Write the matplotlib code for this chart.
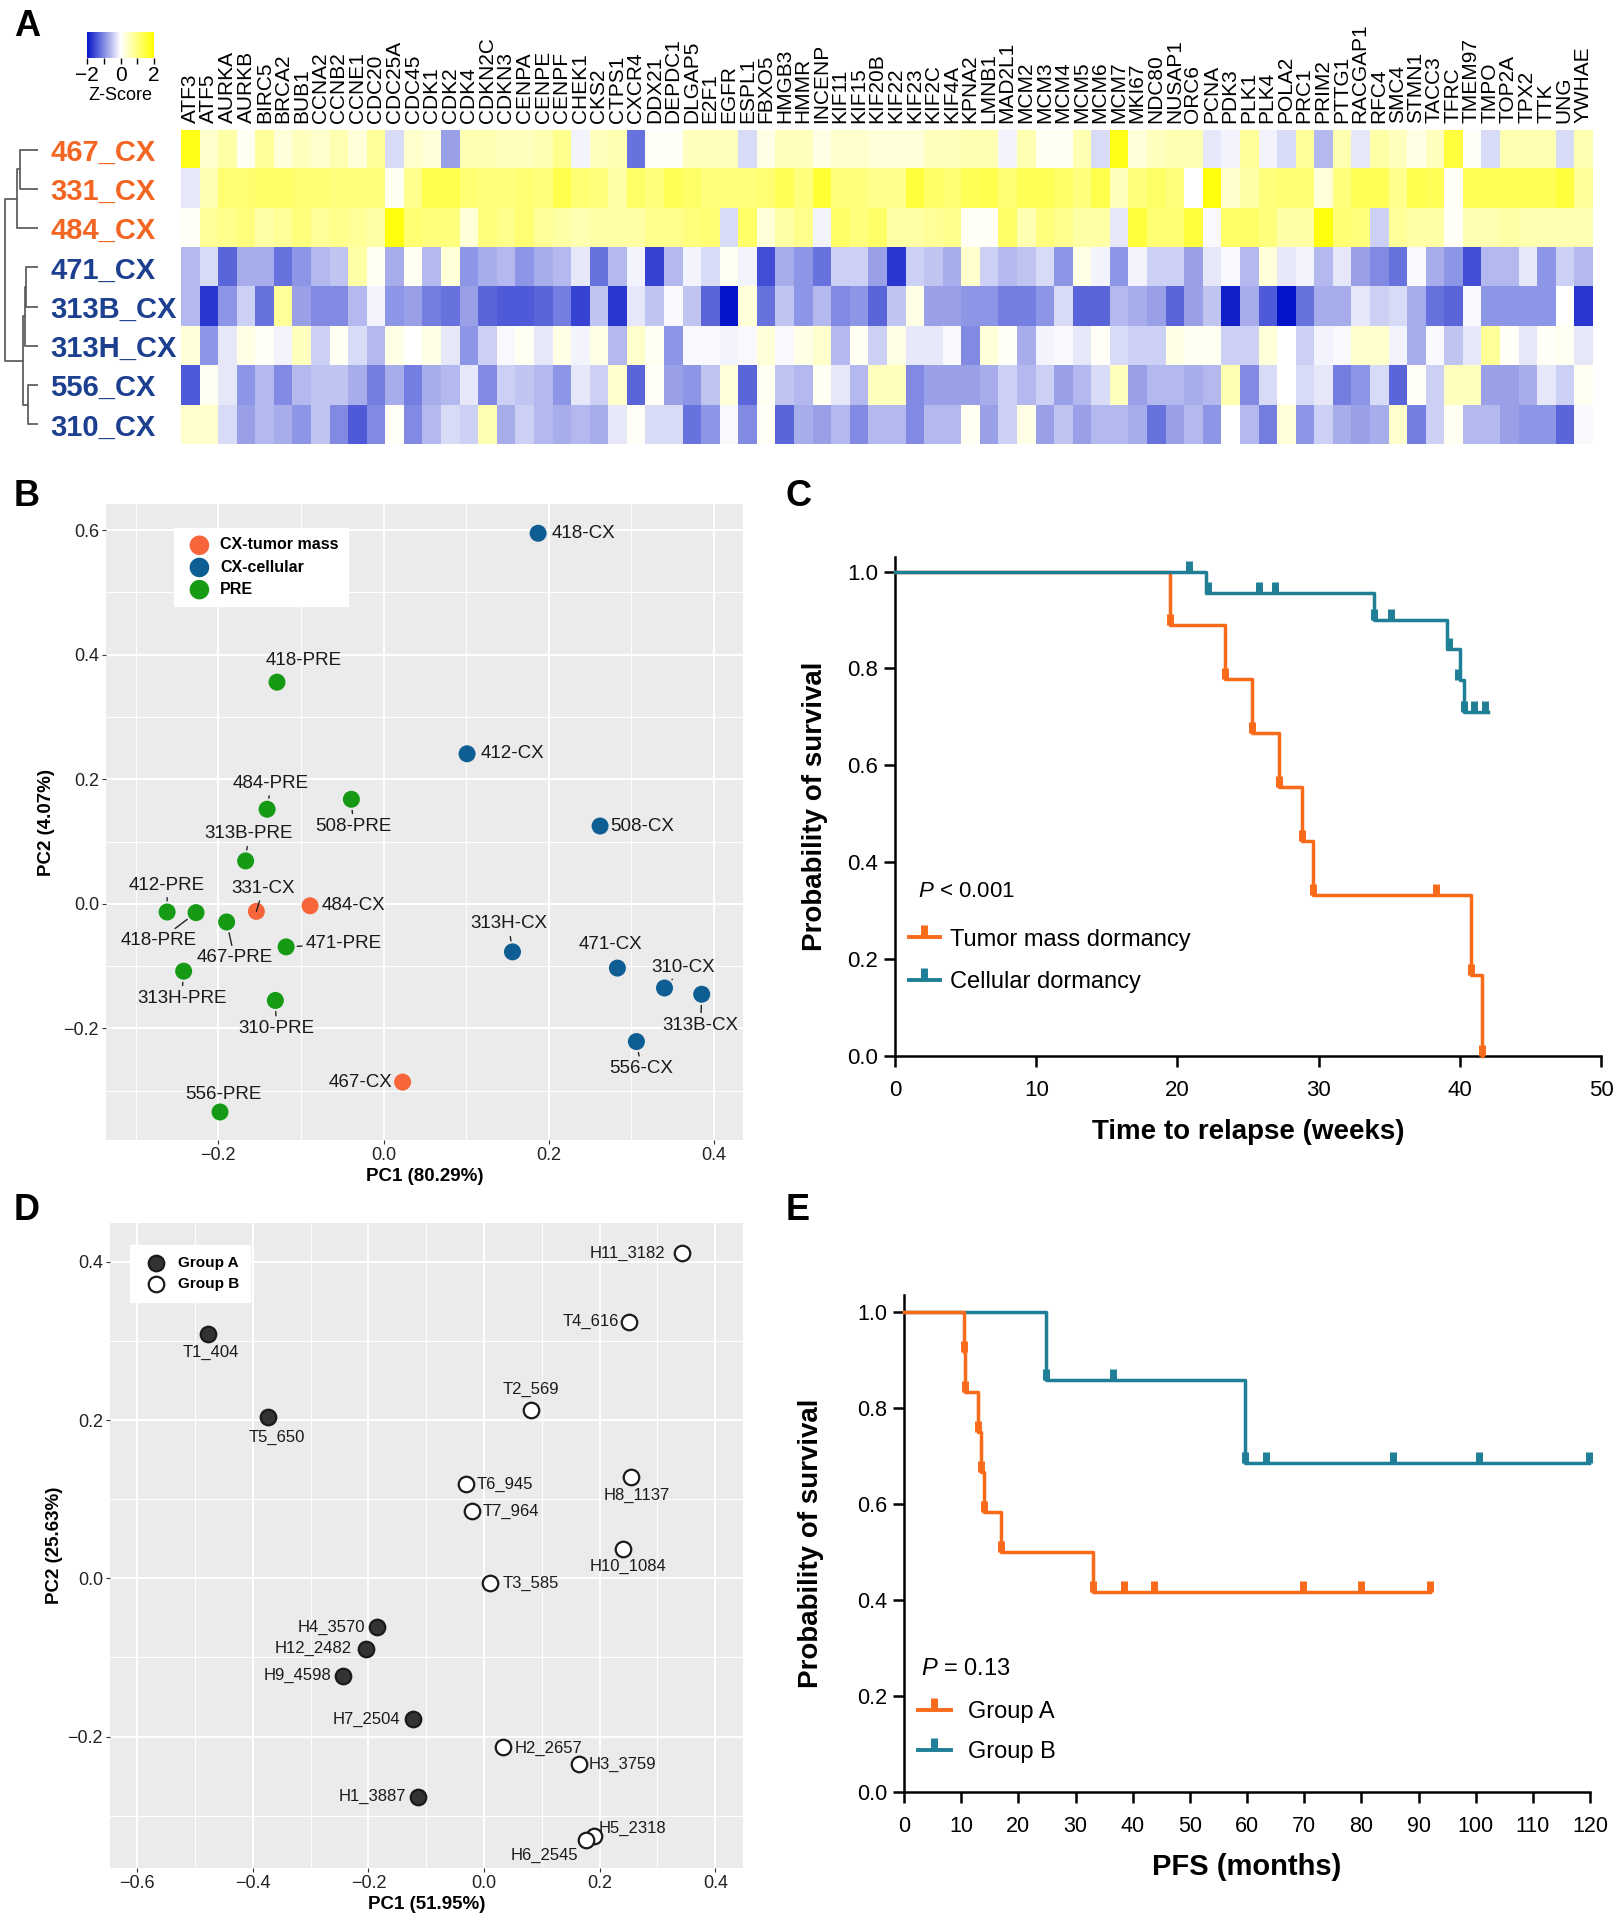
import matplotlib
matplotlib.use("Agg")
import matplotlib.pyplot as plt
import numpy as np
from matplotlib.colors import LinearSegmentedColormap
from matplotlib.lines import Line2D

plt.rcParams["font.family"] = ["Liberation Sans", "DejaVu Sans"]
plt.rcParams["mathtext.fontset"] = "custom"
plt.rcParams["mathtext.it"] = "Liberation Sans:italic"
plt.rcParams["mathtext.rm"] = "Liberation Sans"

W, H = 1619, 1920

# ---------------- A: heatmap ----------------
genes = ["ATF3", "ATF5", "AURKA", "AURKB", "BIRC5", "BRCA2", "BUB1", "CCNA2", "CCNB2", "CCNE1",
         "CDC20", "CDC25A", "CDC45", "CDK1", "CDK2", "CDK4", "CDKN2C", "CDKN3", "CENPA", "CENPE",
         "CENPF", "CHEK1", "CKS2", "CTPS1", "CXCR4", "DDX21", "DEPDC1", "DLGAP5", "E2F1", "EGFR",
         "ESPL1", "FBXO5", "HMGB3", "HMMR", "INCENP", "KIF11", "KIF15", "KIF20B", "KIF22", "KIF23",
         "KIF2C", "KIF4A", "KPNA2", "LMNB1", "MAD2L1", "MCM2", "MCM3", "MCM4", "MCM5", "MCM6",
         "MCM7", "MKI67", "NDC80", "NUSAP1", "ORC6", "PCNA", "PDK3", "PLK1", "PLK4", "POLA2",
         "PRC1", "PRIM2", "PTTG1", "RACGAP1", "RFC4", "SMC4", "STMN1", "TACC3", "TFRC", "TMEM97",
         "TMPO", "TOP2A", "TPX2", "TTK", "UNG", "YWHAE"]
samples = ["467_CX", "331_CX", "484_CX", "471_CX", "313B_CX", "313H_CX", "556_CX", "310_CX"]
sample_type = ["mass", "mass", "mass", "cell", "cell", "cell", "cell", "cell"]

z_467 = [1.8, 0.4, 0.7, 0.1, 0.8, 0.3, 0.5, 0.4, 0.6, 0.3, 0.8, -0.3, 0.4, 0.3, -0.8, 0.6, 0.6, 0.5, 0.5, 0.6, 0.9, -0.1, 0.5,
         0.6, -1.2, 0.05, 0.05, 0.5, 0.5, 0.5, -0.3, 0.2, 0.5, 0.5, 0.2, 0.4, 0.4, 0.3, 0.3, 0.3, 0.5, 0.5, 0.6, 0.6, -0.1, 0.6, 0.1, 0.1, 0.6, -0.3, 1.8,
         0.3, 0.5, 0.6, 0.6, -0.2, -0.1, 0.8, -0.1, -0.3, 0.8, -0.6, 0.6, -0.2, 0.7, 0.5, 0.2, 0.5, 1.5, 0.05, -0.3, 0.6, 0.6, 0.6, -0.3, 0.6]
z_331 = [-0.2, 0.6, 1.1, 1.1, 1.2, 1.2, 1.1, 1.1, 1.0, 1.0, 1.0, 0.1, 0.9, 1.4, 1.4, 1.1, 1.0, 1.0, 1.1, 1.0, 1.4, 1.1, 1.0,
         0.7, 1.2, 1.0, 1.3, 1.2, 1.0, 1.0, 1.0, 1.1, 1.3, 1.0, 1.6, 1.0, 1.0, 0.9, 0.9, 1.5, 1.2, 1.1, 1.3, 1.4, 1.1, 1.3, 1.3, 1.2, 1.0, 1.4, 0.5,
         1.0, 1.2, 1.0, 0.0, 1.9, 0.4, 0.7, 1.0, 1.1, 1.1, 0.3, 1.0, 1.3, 1.3, 0.9, 1.4, 1.3, 0.05, 1.3, 1.3, 1.3, 1.3, 1.3, 1.5, 0.8]
z_484 = [0.05, 0.8, 0.9, 1.0, 0.7, 0.8, 1.0, 0.8, 0.9, 0.8, 0.7, 1.9, 1.1, 1.0, 1.0, 0.3, 1.0, 0.9, 1.1, 0.8, 0.7, 0.6, 0.7,
         0.7, 0.7, 0.9, 0.9, 1.0, 1.1, -0.3, 1.2, 0.3, 0.7, 0.9, -0.1, 1.2, 1.0, 1.2, 0.7, 0.7, 0.8, 0.9, 0.05, 0.05, 1.2, 0.6, 1.0, 0.9, 0.7, 0.7, -0.2,
         1.5, 1.1, 1.1, 1.5, -0.05, 1.2, 1.2, 1.0, 0.7, 0.7, 1.9, 1.1, 1.0, -0.4, 0.8, 0.7, 0.7, 0.05, 0.6, 0.6, 0.7, 0.6, 0.6, 0.6, 0.6]
z_471 = [-0.6, -0.3, -1.3, -0.7, -0.7, -1.2, -0.9, -0.6, -0.5, 0.7, 0.1, -0.7, 0.1, -0.6, 0.3, -0.9, -0.7, -0.6, -0.9, -0.7, -0.6, -0.2, -1.2,
         -0.6, -0.1, -1.6, -0.6, -0.1, -0.3, 0.1, -0.1, -1.5, -0.7, -0.9, -1.2, -0.4, -0.4, -0.8, -1.7, -0.4, -0.5, -0.7, 0.4, -0.4, -0.6, -0.5, -0.3, -0.9, 0.2, -0.1, -0.9,
         -0.1, -0.4, -0.4, -0.8, -0.2, -0.05, -0.6, 0.3, -0.2, -0.1, -0.6, -0.2, -0.8, -1.0, -1.2, -0.05, -0.7, -0.9, -1.5, -0.6, -0.6, -0.2, -0.9, -0.4, -0.6]
z_313b = [-0.6, -1.7, -0.9, -0.4, -1.2, 0.8, -0.8, -1.0, -1.0, -0.6, -0.1, -0.9, -0.8, -1.1, -1.2, -0.8, -1.3, -1.4, -1.4, -1.3, -1.1, -1.6, -0.5,
          -1.7, -0.2, -0.5, -0.05, -0.5, -1.3, -2.0, 0.3, -1.2, -0.5, -0.9, -0.6, -1.0, -0.9, -1.3, -0.5, 0.2, -0.8, -0.8, -0.9, -0.9, -1.1, -1.1, -0.9, -0.3, -1.3, -1.3, -0.6,
          -0.7, -0.8, -1.3, -0.8, -0.5, -1.9, -0.7, -1.4, -2.0, -1.2, -0.7, -0.7, -0.2, -0.4, -0.3, -0.7, -1.2, -1.3, -0.05, -0.9, -0.9, -0.9, -0.9, 0.0, -1.7]
z_313h = [0.3, -0.9, -0.2, 0.2, 0.05, -0.1, 0.5, -0.4, 0.1, -0.3, -0.6, 0.2, 0.0, 0.2, -0.2, -0.9, -0.4, -0.05, 0.1, -0.2, 0.2, -0.1, 0.2,
          -0.6, 0.4, 0.1, -0.9, -0.05, -0.05, -0.1, -0.05, 0.3, -0.05, 0.2, 0.4, -0.6, 0.1, -0.4, 0.2, -0.2, -0.2, -0.05, -1.0, 0.3, 0.05, -0.7, -0.1, -0.05, -0.2, 0.05, -0.3,
          -0.4, -0.4, 0.2, 0.1, 0.1, -0.4, -0.4, 0.3, 0.0, -0.4, -0.1, -0.05, 0.4, 0.4, -0.1, -0.7, -0.05, -0.5, -0.2, 0.8, 0.05, -0.2, 0.05, 0.1, -0.2]
z_556 = [-1.4, 0.1, -0.2, -0.9, -0.6, -1.0, -0.6, -0.5, -0.5, -0.7, -1.1, -0.7, -1.1, -0.7, -0.6, -0.2, -1.0, -0.4, -0.5, -0.6, -0.9, -0.2, -0.4,
         0.4, -1.3, 0.05, -0.8, -0.9, -0.5, 0.3, -1.3, 0.1, -0.5, -0.6, 0.1, -0.2, -0.6, 0.5, 0.5, -1.0, -0.8, -0.8, -0.8, -0.7, -0.4, -0.6, -0.4, -0.8, -0.6, -0.3, 0.5,
         -0.8, -0.6, -0.6, -0.7, -0.6, 0.6, -1.0, -0.3, 0.0, -0.3, -0.2, -1.1, -0.9, -0.3, -1.3, 0.05, -0.4, 0.5, 0.5, -0.8, -0.8, -0.7, -0.2, -0.4, 0.1]
z_310 = [0.4, 0.4, -0.3, -0.8, -0.6, -0.7, -0.9, -0.5, -1.0, -1.4, -1.0, 0.05, -1.0, -0.6, -0.3, -0.4, 0.6, -0.7, -0.4, -0.6, -0.7, -0.6, -0.7,
         -0.2, 0.05, -0.3, -0.3, -1.2, -0.9, -0.05, -1.0, 0.05, -1.3, -0.7, -0.8, -0.6, -1.0, -0.6, -0.6, -1.0, -0.6, -0.6, 0.1, -0.8, -0.4, 0.2, -0.8, -0.5, -0.8, -0.6, -0.6,
         -0.7, -1.2, -0.8, -0.6, -0.9, 0.0, -0.6, -1.1, 0.3, -0.9, -0.4, -0.7, -0.8, -0.7, 0.4, -1.1, -0.4, 0.1, -0.6, -0.6, -0.8, -0.9, -0.9, -1.3, -0.05]

# dendrogram merges (left, right, height); leaves 0..7, new clusters numbered from 8
merges = [(0, 1, 18.5), (8, 2, 21.0), (3, 4, 11.8), (10, 5, 13.0),
          (6, 7, 9.8), (11, 12, 14.6), (9, 13, 32.8)]

# ---------------- B: PCA, dormancy ----------------
b_names = ["418-CX", "412-CX", "508-CX", "313H-CX", "471-CX", "310-CX", "313B-CX", "556-CX",
           "331-CX", "484-CX", "467-CX",
           "418-PRE", "484-PRE", "508-PRE", "313B-PRE", "412-PRE", "418-PRE", "467-PRE",
           "471-PRE", "313H-PRE", "310-PRE", "556-PRE"]
b_group = ["CX-cellular"] * 8 + ["CX-tumor mass"] * 3 + ["PRE"] * 11
b_pc1 = [0.187, 0.101, 0.262, 0.156, 0.283, 0.340, 0.385, 0.306,
         -0.154, -0.089, 0.023,
         -0.129, -0.141, -0.039, -0.167, -0.262, -0.227, -0.190, -0.118, -0.242, -0.131, -0.198]
b_pc2 = [0.595, 0.241, 0.125, -0.077, -0.103, -0.135, -0.145, -0.221,
         -0.012, -0.003, -0.286,
         0.356, 0.152, 0.168, 0.069, -0.013, -0.014, -0.029, -0.069, -0.108, -0.155, -0.334]

# ---------------- C: KM, time to relapse ----------------
mass_t = [0, 19.5, 23.4, 25.3, 27.2, 28.8, 29.6, 40.8, 41.6]
mass_s = [1.0, 0.889, 0.778, 0.667, 0.556, 0.444, 0.333, 0.167, 0.0]
mass_mark_t = [19.5, 23.4, 25.3, 27.2, 28.8, 29.6, 38.3, 40.8, 41.6]
mass_mark_s = [0.889, 0.778, 0.667, 0.556, 0.444, 0.333, 0.333, 0.167, 0.0]
cell_t = [0, 22.0, 33.9, 39.1, 40.0, 40.3, 42.0]
cell_s = [1.0, 0.955, 0.90, 0.84, 0.776, 0.71, 0.71]
cell_mark_t = [20.8, 22.2, 25.8, 26.9, 33.9, 35.1, 39.2, 39.9, 40.3, 41.0, 41.8]
cell_mark_s = [1.0, 0.955, 0.955, 0.955, 0.90, 0.90, 0.84, 0.776, 0.71, 0.71, 0.71]

# ---------------- D: PCA, groups ----------------
d_names = ["T1_404", "T5_650", "H4_3570", "H12_2482", "H9_4598", "H7_2504", "H1_3887",
           "H11_3182", "T4_616", "T2_569", "T6_945", "H8_1137", "T7_964", "H10_1084",
           "T3_585", "H2_2657", "H3_3759", "H5_2318", "H6_2545"]
d_group = ["Group A"] * 7 + ["Group B"] * 12
d_pc1 = [-0.478, -0.373, -0.185, -0.204, -0.244, -0.123, -0.114,
         0.343, 0.251, 0.081, -0.031, 0.255, -0.021, 0.240, 0.010, 0.032, 0.165, 0.191, 0.177]
d_pc2 = [0.309, 0.204, -0.062, -0.089, -0.123, -0.178, -0.276,
         0.411, 0.324, 0.213, 0.119, 0.128, 0.085, 0.037, -0.006, -0.213, -0.235, -0.326, -0.331]

# ---------------- E: KM, PFS ----------------
ga_t = [0, 10.5, 10.7, 12.9, 13.4, 14.0, 16.9, 33.1, 92.0]
ga_s = [1.0, 0.917, 0.833, 0.75, 0.667, 0.583, 0.5, 0.417, 0.417]
ga_mark_t = [10.5, 10.7, 12.9, 13.4, 14.0, 16.9, 33.1, 38.5, 43.8, 69.8, 80.0, 92.0]
ga_mark_s = [0.917, 0.833, 0.75, 0.667, 0.583, 0.5, 0.417, 0.417, 0.417, 0.417, 0.417, 0.417]
gb_t = [0, 24.8, 59.6, 119.8]
gb_s = [1.0, 0.857, 0.686, 0.686]
gb_mark_t = [24.8, 36.6, 59.6, 63.4, 85.5, 100.5, 119.8]
gb_mark_s = [0.857, 0.857, 0.686, 0.686, 0.686, 0.686, 0.686]

ORANGE = "#F96A1A"
TEAL = "#1F7F97"


def box(x0, y0, x1, y1):
    # pixel box (top-left origin) -> figure fraction rect
    return [x0 / W, 1 - y1 / H, (x1 - x0) / W, (y1 - y0) / H]


def gg_style(ax, xticks, yticks, xlim, ylim):
    ax.set_facecolor("#EBEBEB")
    for s in ax.spines.values():
        s.set_visible(False)
    ax.set_xticks(xticks)
    ax.set_yticks(yticks)
    step = xticks[1] - xticks[0]
    mx = np.arange(xticks[0] - step / 2, xlim[1], step)
    ax.set_xticks(mx[mx > xlim[0]], minor=True)
    step = yticks[1] - yticks[0]
    my = np.arange(yticks[0] - step / 2, ylim[1], step)
    ax.set_yticks(my[my > ylim[0]], minor=True)
    ax.set_xlim(xlim)
    ax.set_ylim(ylim)
    ax.grid(which="major", color="white", lw=1.4)
    ax.grid(which="minor", color="white", lw=0.7)
    ax.set_axisbelow(True)
    ax.tick_params(which="major", length=3, color="#333333", labelsize=13, pad=2, labelcolor="#222222")
    ax.tick_params(which="minor", length=0)


def km_style(ax, xlim, ylim, xticks, labelsize):
    for s in ["top", "right"]:
        ax.spines[s].set_visible(False)
    for s in ["left", "bottom"]:
        ax.spines[s].set_linewidth(1.8)
    ax.set_xticks(xticks)
    ax.set_yticks([0, 0.2, 0.4, 0.6, 0.8, 1.0])
    ax.set_yticklabels(["0.0", "0.2", "0.4", "0.6", "0.8", "1.0"])
    ax.set_xlim(xlim)
    ax.set_ylim(ylim)
    ax.tick_params(direction="out", length=8, width=1.8, labelsize=labelsize)
    ax.tick_params(axis="x", pad=9)
    ax.tick_params(axis="y", pad=4)


def label_points(ax, xs, ys, names, offsets, size):
    for x, y, name, (dx, dy, ha, line) in zip(xs, ys, names, offsets):
        props = dict(arrowstyle="-", color="#222222", lw=1.0, shrinkA=1, shrinkB=8) if line else None
        ax.annotate(name, (x, y), xytext=(dx, -dy), textcoords="offset pixels",
                    ha=ha, va="center", fontsize=size, color="#1a1a1a", arrowprops=props)


fig = plt.figure(figsize=(W / 100, H / 100), dpi=100)

# ---- A ----
Z = np.array([z_467, z_331, z_484, z_471, z_313b, z_313h, z_556, z_310])
cmap = LinearSegmentedColormap.from_list("bwy", ["#0414C8", "#FFFFFF", "#FFFF00"])
ax_hm = fig.add_axes(box(181, 130, 1592, 444))
im = ax_hm.imshow(Z, cmap=cmap, vmin=-2, vmax=2, aspect="auto", interpolation="nearest")
ax_hm.xaxis.tick_top()
ax_hm.set_xticks(range(len(genes)))
ax_hm.set_xticklabels(genes, rotation=90, fontsize=15)
ax_hm.set_yticks(range(len(samples)))
ax_hm.set_yticklabels(samples, fontsize=21, fontweight="bold", ha="left")
for lab, t in zip(ax_hm.get_yticklabels(), sample_type):
    lab.set_color("#F26522" if t == "mass" else "#1D3F8F")
ax_hm.tick_params(axis="x", length=0, pad=5)
ax_hm.tick_params(axis="y", length=0, pad=94)
for s in ax_hm.spines.values():
    s.set_visible(False)

ax_dn = fig.add_axes(box(3, 130, 38, 444))
pos = {i: float(i) for i in range(len(samples))}
hgt = {i: 0.0 for i in range(len(samples))}
for k, (a, b, h) in enumerate(merges):
    ax_dn.plot([hgt[a], h, h, hgt[b]], [pos[a], pos[a], pos[b], pos[b]], color="#606060", lw=1.3)
    pos[len(samples) + k] = (pos[a] + pos[b]) / 2
    hgt[len(samples) + k] = h
ax_dn.set_xlim(35, 0)
ax_dn.set_ylim(len(samples) - 0.5, -0.5)
ax_dn.axis("off")

cax = fig.add_axes(box(87, 32, 154, 58))
cb = fig.colorbar(im, cax=cax, orientation="horizontal", ticks=[-2, -1, 0, 1, 2])
cb.set_ticklabels(["\u22122", "", "0", "", "2"])
cb.outline.set_visible(False)
cax.tick_params(length=4, width=1, labelsize=15, pad=2)
cb.set_label("Z-Score", fontsize=13, labelpad=1)

# ---- B ----
b_colors = {"CX-tumor mass": "#F7663A", "CX-cellular": "#0E5E93", "PRE": "#169A16"}
ax_b = fig.add_axes(box(106, 504, 743, 1140))
gg_style(ax_b, [-0.2, 0.0, 0.2, 0.4], [-0.2, 0.0, 0.2, 0.4, 0.6], (-0.336, 0.435), (-0.379, 0.642))
for g in ["CX-tumor mass", "CX-cellular", "PRE"]:
    idx = [i for i, gg in enumerate(b_group) if gg == g]
    ax_b.scatter([b_pc1[i] for i in idx], [b_pc2[i] for i in idx], s=150, color=b_colors[g],
                 edgecolors="none", label=g, zorder=3)
b_offsets = [(14, 0, "left", False), (14, 0, "left", False), (10, 0, "left", False),
             (-4, -28, "center", True), (-7, -24, "center", False), (19, -21, "center", True),
             (-1, 31, "center", True), (5, 27, "center", True),
             (7, -23, "center", True), (12, 0, "left", False), (-10, 0, "right", False),
             (27, -22, "center", False), (4, -26, "center", True), (2, 27, "center", True),
             (3, -27, "center", True), (0, -27, "center", True), (-37, 28, "center", True),
             (8, 36, "center", True), (20, -3, "left", True), (-2, 27, "center", True),
             (1, 28, "center", True), (3, -17, "center", False)]
label_points(ax_b, b_pc1, b_pc2, b_names, b_offsets, 13.5)
ax_b.legend(loc="upper left", bbox_to_anchor=(0.094, 0.975), frameon=True, fancybox=False,
            edgecolor="white", facecolor="white", framealpha=1, prop={"weight": "bold", "size": 11.5},
            handletextpad=0.3, labelspacing=0.45, borderpad=0.6, markerscale=1.15)
ax_b.set_xlabel("PC1 (80.29%)", fontsize=13.5, fontweight="bold", labelpad=3)
ax_b.set_ylabel("PC2 (4.07%)", fontsize=13.5, fontweight="bold", labelpad=6)

# ---- C ----
ax_c = fig.add_axes(box(895, 557, 1601, 1056))
km_style(ax_c, (0, 50), (0, 1.03), [0, 10, 20, 30, 40, 50], 16)
ax_c.step(mass_t, mass_s, where="post", color=ORANGE, lw=2.5, clip_on=False, zorder=3)
ax_c.plot(mass_mark_t, mass_mark_s, ls="none", marker=2, ms=8, mew=5, color=ORANGE, clip_on=False, zorder=3)
ax_c.step(cell_t, cell_s, where="post", color=TEAL, lw=2.5, clip_on=False, zorder=4)
ax_c.plot(cell_mark_t, cell_mark_s, ls="none", marker=2, ms=8, mew=5, color=TEAL, clip_on=False, zorder=4)
ax_c.text(1.66, 0.34, "$P$ < 0.001", fontsize=16, va="center")
h_c = [Line2D([], [], color=ORANGE, lw=2.8, marker=2, ms=9, mew=5),
       Line2D([], [], color=TEAL, lw=2.8, marker=2, ms=9, mew=5)]
ax_c.legend(h_c, ["Tumor mass dormancy", "Cellular dormancy"], loc="upper left",
            bbox_to_anchor=(0.02, 0.255), frameon=False, fontsize=17, borderpad=0, borderaxespad=0,
            handlelength=1.3, handletextpad=0.45, labelspacing=0.85, numpoints=1)
ax_c.set_xlabel("Time to relapse (weeks)", fontsize=20, fontweight="bold", labelpad=13)
ax_c.set_ylabel("Probability of survival", fontsize=20, fontweight="bold", labelpad=14)

# ---- D ----
ax_d = fig.add_axes(box(110, 1223, 743, 1868))
gg_style(ax_d, [-0.6, -0.4, -0.2, 0.0, 0.2, 0.4], [-0.2, 0.0, 0.2, 0.4], (-0.647, 0.448), (-0.366, 0.449))
for g, fc in [("Group A", "#333333"), ("Group B", "white")]:
    idx = [i for i, gg in enumerate(d_group) if gg == g]
    ax_d.scatter([d_pc1[i] for i in idx], [d_pc2[i] for i in idx], s=125, facecolor=fc,
                 edgecolor="#1a1a1a", linewidths=1.6, label=g, zorder=3)
d_offsets = [(3, 19, "center", False), (8, 21, "center", False), (-12, 0, "right", False),
             (-14, 0, "right", False), (-12, 0, "right", False), (-13, 0, "right", False),
             (-12, 0, "right", False), (-17, 0, "right", False), (-10, 0, "right", False),
             (0, -20, "center", False), (11, 0, "left", False), (5, 18, "center", False),
             (11, 0, "left", False), (5, 17, "center", False), (13, 0, "left", False),
             (12, 2, "left", False), (9, 0, "left", False), (4, -8, "left", False),
             (-42, 15, "center", False)]
label_points(ax_d, d_pc1, d_pc2, d_names, d_offsets, 12)
ax_d.legend(loc="upper left", bbox_to_anchor=(0.02, 0.977), frameon=True, fancybox=False,
            edgecolor="white", facecolor="white", framealpha=1, prop={"weight": "bold", "size": 11},
            handletextpad=0.4, labelspacing=0.45, borderpad=0.7)
ax_d.set_xlabel("PC1 (51.95%)", fontsize=13.5, fontweight="bold", labelpad=3)
ax_d.set_ylabel("PC2 (25.63%)", fontsize=13.5, fontweight="bold", labelpad=3)

# ---- E ----
ax_e = fig.add_axes(box(904, 1295, 1590, 1792))
km_style(ax_e, (0, 120), (0, 1.035), list(range(0, 121, 10)), 15.5)
ax_e.step(gb_t, gb_s, where="post", color=TEAL, lw=2.5, clip_on=False, zorder=3)
ax_e.plot(gb_mark_t, gb_mark_s, ls="none", marker=2, ms=8, mew=5, color=TEAL, clip_on=False, zorder=3)
ax_e.step(ga_t, ga_s, where="post", color=ORANGE, lw=2.5, clip_on=False, zorder=4)
ax_e.plot(ga_mark_t, ga_mark_s, ls="none", marker=2, ms=8, mew=5, color=ORANGE, clip_on=False, zorder=4)
ax_e.text(2.97, 0.256, "$P$ = 0.13", fontsize=17, va="center")
h_e = [Line2D([], [], color=ORANGE, lw=2.8, marker=2, ms=9, mew=5),
       Line2D([], [], color=TEAL, lw=2.8, marker=2, ms=9, mew=5)]
ax_e.legend(h_e, ["Group A", "Group B"], loc="upper left", bbox_to_anchor=(0.02, 0.183),
            frameon=False, fontsize=17, borderpad=0, borderaxespad=0,
            handlelength=1.4, handletextpad=0.75, labelspacing=0.78, numpoints=1)
ax_e.set_xlabel("PFS (months)", fontsize=21, fontweight="bold", labelpad=12)
ax_e.set_ylabel("Probability of survival", fontsize=20, fontweight="bold", labelpad=24)

# panel letters
for letter, x, y in [("A", 27, 27), ("B", 27, 496), ("C", 798, 496), ("D", 27, 1210), ("E", 798, 1210)]:
    fig.text(x / W, 1 - y / H, letter, ha="center", va="center", fontsize=26, fontweight="bold")

fig.savefig("out.png", dpi=100, facecolor="white")
